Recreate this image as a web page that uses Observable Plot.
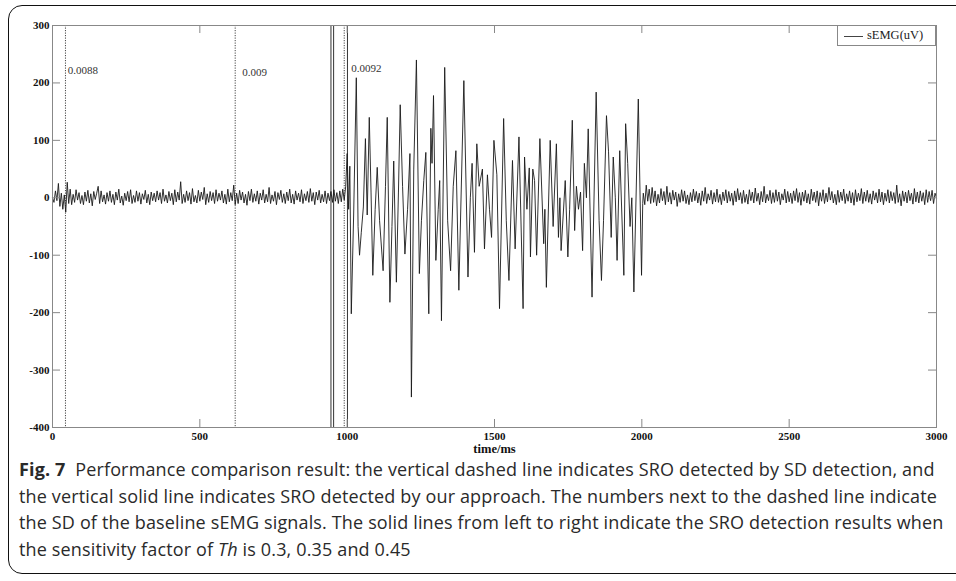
<!DOCTYPE html>
<html><head><meta charset="utf-8">
<script src="https://cdn.jsdelivr.net/npm/d3@7"></script>
<script src="https://cdn.jsdelivr.net/npm/@observablehq/plot@0.6"></script>
<style>
body{margin:0;background:#fff;}
#wrap{position:relative;width:956px;height:581px;overflow:hidden;background:#fff;}
#border{position:absolute;left:8px;top:5px;width:980px;height:569px;border:1.5px solid #111;border-radius:14px;box-sizing:border-box;}
#chart{position:absolute;left:0;top:0;}
#legend{position:absolute;left:837px;top:25px;width:99px;height:21px;border:1px solid #888;box-sizing:border-box;background:#fff;font-family:"Liberation Serif";font-size:12.5px;color:#222;}
#legend .ln{position:absolute;left:6px;top:10px;width:19px;height:0;border-top:1px solid #444;}
#legend .tx{position:absolute;left:29px;top:2px;}
#caption{position:absolute;left:19px;top:456px;font-family:"Open Sans";font-size:18px;letter-spacing:0.15px;line-height:26.5px;color:#2a2a2a;white-space:nowrap;}
#caption b{font-weight:700;}
</style></head>
<body>
<div id="wrap">
<div id="border"></div>
<div id="chart"></div>
<div id="legend"><div class="ln"></div><div class="tx">sEMG(uV)</div></div>
<div id="caption"></div>
</div>
<script>
// ---- data ----
const xTicks = [0, 500, 1000, 1500, 2000, 2500, 3000];
const yTicks = [-400, -300, -200, -100, 0, 100, 200, 300];

// vertical dashed lines (SD detection) and solid lines (our approach)
const sdLines = [44, 620, 990];
const sroLines = [945, 954, 1001];
const sdLabelT = [52, 644, 1014];
const sdLabelV = [222, 218, 225];
const sdLabelText = ["0.0088", "0.009", "0.0092"];

// baseline before onset: sample every 5 ms from 0 ms
const baseStep = 5;
const baseLeftStart = 0;
const baseLeft = [
  0, -8, 12, -5, 25, -15, 8, -20, 5, -25,
  27, -10, 15, -12, 6, -8, 14, -4, 9, -10,
  4, -12, 10, -6, 13, -9, 7, -14, 11, -3,
  8, 20, -10, 12, -7, 5, -11, 9, -6, 12,
  -8, 6, -12, 10, -4, 15, -9, 3, -13, 8,
  -5, 11, -7, 14, -10, 4, -8, 12, -6, 9,
  -11, 7, -3, 13, -9, 6, -12, 10, -5, 8,
  -7, 12, -4, 9, -10, 15, -6, 5, -9, 11,
  -5, 8, -12, 14, -7, 10, -4, 28, -10, 6,
  -8, 12, -5, 9, -11, 16, -7, 4, -9, 13,
  -6, 10, -3, 18, -12, 7, -8, 11, -5, 9,
  -10, 14, -6, 8, -4, 12, -9, 6, -11, 15,
  -7, 9, -5, 22, -12, 8, -10, 13, -4, 10,
  -9, 6, -13, 11, -5, 15, -8, 7, -6, 12,
  -11, 8, -4, 14, -9, 6, -7, 18, -10, 5,
  -6, 11, -12, 9, -3, 13, -8, 7, -10, 10,
  -5, 15, -9, 6, -11, 12, -4, 8, -7, 14,
  -10, 7, -5, 11, -8, 16, -6, 9, -12, 10,
  -4, 13, -9, 6, -7, 12, -10, 8, -5, 11,
  -8, 14, -6, 9, -10, 12, -7, 15, -4, 20
];

// burst (peaks and troughs)
const burstT = [1000,1005,1009,1014,1022,1031,1037,1042,1048,1055,1062,1068,1075,1081,1087,1095,1102,1110,1122,1130,
  1136,1145,1152,1158,1167,1174,1180,1188,1196,1205,1213,1218,1226,1235,1245,1252,1260,1267,1277,1284,
  1288,1293,1301,1309,1314,1320,1331,1341,1351,1360,1369,1379,1396,1410,1418,1424,1432,1440,1448,1459,
  1466,1476,1483,1490,1498,1508,1517,1531,1540,1549,1561,1570,1583,1597,1602,1610,1618,1622,1630,1636,
  1643,1654,1667,1671,1676,1689,1699,1710,1717,1722,1726,1740,1749,1755,1764,1772,1778,1785,1792,1799,
  1805,1812,1818,1831,1845,1855,1863,1870,1880,1887,1896,1903,1910,1916,1925,1939,1945,1952,1960,1966,
  1973,1988,1999,2003];
const burstV = [77,-20,55,-202,-30,209,-50,-100,-60,-16,103,-30,140,10,-135,-20,53,-40,-127,20,
  140,-182,-50,64,-147,10,162,20,-98,-20,77,-347,50,240,-132,-40,30,79,-202,121,
  60,178,-109,-20,30,-214,227,-40,-127,20,82,-161,204,-138,0,60,-95,94,20,50,
  -89,40,-20,-69,100,40,-193,138,-40,-144,65,-89,106,-193,71,-20,52,-103,50,30,
  -100,103,-80,-20,-156,100,-50,94,-69,0,-92,30,-103,-20,135,-57,20,-20,10,-92,
  60,0,120,-173,184,-40,-144,-40,143,80,-69,71,0,-109,82,-135,129,60,-50,0,
  -164,172,-135,-10];

// baseline after offset: sample every 5 ms from 2005 ms
const baseRightStart = 2005;
const baseRight = [
  8, -12, 22, -6, 15, -10, 18, -8, 12, -14,
  6, -9, 16, -5, 11, -12, 20, -7, 9, -11,
  13, -4, 10, -15, 7, -8, 14, -6, 12, -10,
  5, -12, 9, -7, 15, -5, 11, -9, 8, -13,
  12, -6, 18, -10, 7, -4, 13, -11, 9, -7,
  15, -8, 6, -12, 10, -5, 14, -9, 11, -6,
  8, -13, 12, -7, 16, -4, 9, -10, 13, -8,
  6, -11, 14, -5, 10, -9, 17, -6, 8, -12,
  11, -7, 20, -9, 6, -5, 13, -10, 9, -8,
  14, -6, 10, -12, 7, -4, 15, -9, 11, -7,
  8, -10, 12, -5, 16, -8, 9, -13, 10, -6,
  13, -9, 7, -11, 15, -5, 10, -8, 12, -14,
  9, -6, 14, -10, 8, -7, 18, -4, 11, -9,
  6, -12, 13, -8, 10, -5, 15, -10, 7, -6,
  12, -9, 9, -13, 14, -7, 8, -5, 16, -10,
  10, -6, 13, -8, 7, -11, 12, -4, 9, -9,
  15, -7, 10, -12, 8, -6, 14, -9, 11, -5,
  9, -10, 22, -8, 7, -14, 12, -6, 10, -9,
  13, -5, 8, -11, 16, -7, 10, -9, 12, -6,
  9, -12, 14, -8, 11, -5, 13, -10, 8, 0
];

// ---- build table ----
const signal = [];
baseLeft.forEach((v, i) => signal.push({t: baseLeftStart + i * baseStep, v}));
burstT.forEach((t, i) => signal.push({t, v: burstV[i]}));
baseRight.forEach((v, i) => signal.push({t: baseRightStart + i * baseStep, v}));
const labels = sdLabelT.map((t, i) => ({t, v: sdLabelV[i], text: sdLabelText[i]}));

const W = 956, H = 460, mT = 25, mB = 33, mL = 52, mR = 20;
const innerH = H - mT - mB, innerW = W - mL - mR, tk = 8;
const fmt = d => String(d);

const chart = Plot.plot({
  width: W, height: H,
  marginTop: mT, marginBottom: mB, marginLeft: mL, marginRight: mR,
  x: {domain: [0, 3000]},
  y: {domain: [-400, 300]},
  style: {fontFamily: "Liberation Serif", fontSize: "11px", fontWeight: "bold", color: "#111", background: "transparent"},
  marks: [
    Plot.ruleX(sdLines, {x: d => d, stroke: "#444", strokeDasharray: "1.2,1.3", strokeWidth: 1}),
    Plot.ruleX(sroLines, {x: d => d, stroke: "#333", strokeWidth: 1}),
    Plot.line(signal, {x: "t", y: "v", stroke: "#1a1a1a", strokeWidth: 0.9}),
    Plot.frame({stroke: "#888"}),
    Plot.tickX(xTicks, {x: d => d, insetTop: innerH - tk, stroke: "#888"}),
    Plot.tickX(xTicks, {x: d => d, insetBottom: innerH - tk, stroke: "#888"}),
    Plot.tickY(yTicks, {y: d => d, insetRight: innerW - tk, stroke: "#888"}),
    Plot.tickY(yTicks, {y: d => d, insetLeft: innerW - tk, stroke: "#888"}),
    Plot.axisX(xTicks, {tickSize: 0, tickPadding: 5, label: null, tickFormat: fmt}),
    Plot.axisY(yTicks, {tickSize: 0, tickPadding: 3, label: null, tickFormat: fmt}),
    Plot.text(["time/ms"], {text: d => d, frameAnchor: "bottom", dy: 25, fontSize: 12.5, fontWeight: "bold"}),
    Plot.text(labels, {x: "t", y: "v", text: "text", textAnchor: "start", fontWeight: "normal", fontSize: 11, fill: "#333"})
  ]
});
document.getElementById("chart").appendChild(chart);

const captionLines = [
  "<b>Fig. 7</b>&nbsp; Performance comparison result: the vertical dashed line indicates SRO detected by SD detection, and",
  "the vertical solid line indicates SRO detected by our approach. The numbers next to the dashed line indicate",
  "the SD of the baseline sEMG signals. The solid lines from left to right indicate the SRO detection results when",
  "the sensitivity factor of <i>Th</i> is 0.3, 0.35 and 0.45"
];
document.getElementById("caption").innerHTML = captionLines.map(l => `<div>${l}</div>`).join("");
</script>
</body></html>
